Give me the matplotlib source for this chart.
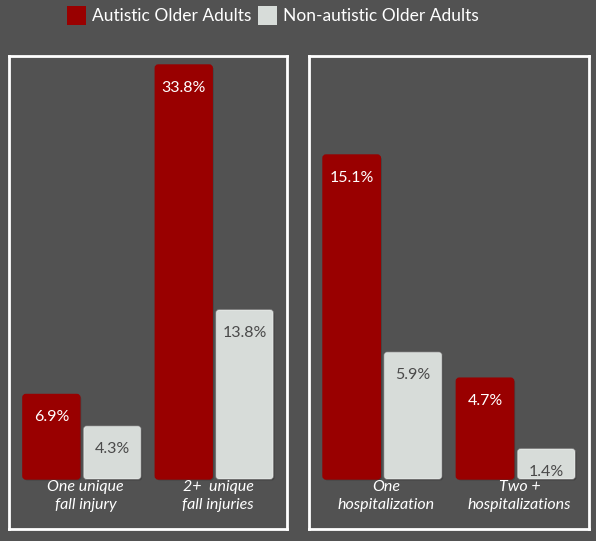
import numpy as np
import matplotlib
matplotlib.use("Agg")
import matplotlib.pyplot as plt
from matplotlib.patches import FancyBboxPatch, Rectangle

# data
series = ["Autistic Older Adults", "Non-autistic Older Adults"]
falls_labels = ["One unique\nfall injury", "2+  unique\nfall injuries"]
falls_autistic = [6.9, 33.8]
falls_non = [4.3, 13.8]
hosp_labels = ["One\nhospitalization", "Two +\nhospitalizations"]
hosp_autistic = [15.1, 4.7]
hosp_non = [5.9, 1.4]

RED = "#990000"
GREY = "#d7dcd9"
BG = "#525252"

plt.rcParams['font.family'] = ['Lato', 'DejaVu Sans']

W, H = 596, 541
fig = plt.figure(figsize=(W / 100, H / 100), dpi=100)
fig.patch.set_facecolor(BG)


def panel(x0, x1, labels):
    # box from y=56 to y=529 px, baseline at 479 px
    ax = fig.add_axes([x0 / W, (H - 529) / H, (x1 - x0) / W, 473 / H])
    ax.set_facecolor("none")
    for s in ax.spines.values():
        s.set_color("white")
        s.set_linewidth(2)
    x = np.arange(len(labels))
    ax.set_xlim(-0.55, 1.55)
    return ax, x


def draw(ax, x, labels, red_vals, grey_vals, top_px):
    vmax = max(red_vals)
    ppu = (479 - top_px) / vmax
    ax.set_ylim(-50 / ppu, 423 / ppu)
    w = 0.43
    off = 0.46 / 2
    ppx = 132.75
    for vals, dx, col, tc in [(red_vals, -off, RED, "white"), (grey_vals, off, GREY, "#4a4a4a")]:
        bars = ax.bar(x + dx, vals, width=w, color=col)
        for b, v in zip(bars, vals):
            b.set_visible(False)
            r = 3
            fb = FancyBboxPatch((b.get_x(), 0), b.get_width(), b.get_height(),
                                boxstyle=f"round,pad=0,rounding_size={r / ppx}",
                                mutation_aspect=ppx / ppu,
                                facecolor=col, edgecolor=(1, 1, 1, 0.35) if col == GREY else col,
                                linewidth=1.0)
            ax.add_patch(fb)
            sh = FancyBboxPatch((b.get_x() + 1.5 / ppx, -1.5 / ppu), b.get_width(), b.get_height(),
                                boxstyle=f"round,pad=0,rounding_size={r / ppx}",
                                mutation_aspect=ppx / ppu,
                                facecolor="black", alpha=0.18, edgecolor="none", zorder=0.5)
            ax.add_patch(sh)
            ax.text(b.get_x() + b.get_width() / 2, v - 23 / ppu, f"{v}%",
                    ha="center", va="center", color=tc, fontsize=11.5)
    ax.set_xticks(x)
    ax.set_xticklabels([])
    ax.set_yticks([])
    ax.tick_params(length=0)
    for xi, lab in zip(x, labels):
        ax.text(xi + 0.03, -1 / ppu, lab, ha="center", va="top", color="white",
                fontsize=11.5, style="italic", linespacing=1.4)


ax1, x1 = panel(9, 287, falls_labels)
draw(ax1, x1, falls_labels, falls_autistic, falls_non, 65)
ax2, x2 = panel(309, 589, hosp_labels)
draw(ax2, x2, hosp_labels, hosp_autistic, hosp_non, 155)

# legend
lx = [67, 258]
for px, name, col in zip(lx, series, [RED, GREY]):
    fig.patches.append(Rectangle((px / W, (H - 25) / H), 19 / W, 19 / H,
                                 transform=fig.transFigure, facecolor=col, edgecolor="none"))
    fig.text((px + 25) / W, (H - 16) / H, name, ha="left", va="center",
             color="white", fontsize=12.5)

fig.savefig("out.png", dpi=100, facecolor=BG)
